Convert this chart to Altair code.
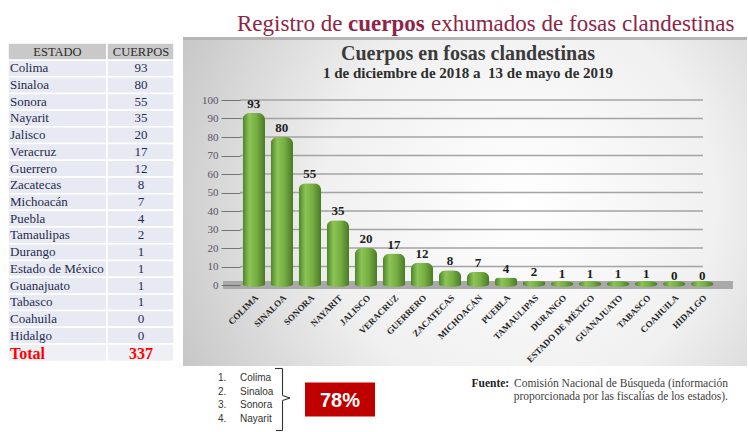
import altair as alt
import pandas as pd

# ---- data -------------------------------------------------------------
estados = ["Colima", "Sinaloa", "Sonora", "Nayarit", "Jalisco", "Veracruz",
           "Guerrero", "Zacatecas", "Michoacán", "Puebla", "Tamaulipas",
           "Durango", "Estado de México", "Guanajuato", "Tabasco",
           "Coahuila", "Hidalgo"]
cuerpos = [93, 80, 55, 35, 20, 17, 12, 8, 7, 4, 2, 1, 1, 1, 1, 0, 0]
marcas_y = [0, 10, 20, 30, 40, 50, 60, 70, 80, 90, 100]
encabezados = ["ESTADO", "CUERPOS"]
titulo = ["Registro de", "cuerpos", "exhumados de fosas clandestinas"]
titulo_grafica = "Cuerpos en fosas clandestinas"
periodo = "1 de diciembre de 2018 a\u00a0 13 de mayo de 2019"
fuente = ["Fuente:", "Comisión Nacional de Búsqueda (información",
          "proporcionada por las fiscalías de los estados)."]

total = sum(cuerpos)
n_top = 4
porcentaje = round(100 * sum(cuerpos[:n_top]) / total)

# ---- layout helpers (plot area origin on the page) ----------------------
W, H = 510, 185
X0, Y0 = 223, 100
SERIF = "Liberation Serif"
SANS = "Liberation Sans"


def px(x):
    return x - X0


def py(y):
    return y - Y0


datos = pd.DataFrame({
    "estado": estados,
    "etiqueta": [e.upper() for e in estados],
    "cuerpos": cuerpos,
})
uno = pd.DataFrame({"k": [0]})


def caja(x1, x2, y1, y2, **mark):
    return alt.Chart(uno).mark_rect(**mark).encode(
        x=alt.value(px(x1)), x2=alt.value(px(x2)),
        y=alt.value(py(y1)), y2=alt.value(py(y2)))


def texto(s, x, y, **mark):
    return alt.Chart(uno).mark_text(**mark).encode(
        x=alt.value(px(x)), y=alt.value(py(y)), text=alt.value(s))


def trazo(x1, y1, x2, y2, **mark):
    return alt.Chart(uno).mark_rule(**mark).encode(
        x=alt.value(px(x1)), x2=alt.value(px(x2)),
        y=alt.value(py(y1)), y2=alt.value(py(y2)))


# ---- gradients ----------------------------------------------------------
verde = alt.Gradient(gradient="linear", x1=0, y1=0, x2=1, y2=0, stops=[
    alt.GradientStop(color="#4e8128", offset=0),
    alt.GradientStop(color="#8cc456", offset=0.3),
    alt.GradientStop(color="#76ae42", offset=0.62),
    alt.GradientStop(color="#4a7925", offset=1)])

fondo_panel = alt.Gradient(gradient="radial", x1=0.6, y1=0.5, x2=0.6, y2=0.5,
                           r1=0, r2=0.78, stops=[
    alt.GradientStop(color="#ffffff", offset=0),
    alt.GradientStop(color="#f0f0f0", offset=0.45),
    alt.GradientStop(color="#b8b8b8", offset=1)])

# ---- chart panel --------------------------------------------------------
panel = caja(183, 747, 37, 366, fill=fondo_panel)
borde_panel = caja(183, 747, 37, 40, fill="#b5b5b5")

escala_x = alt.Scale(paddingInner=0.2, paddingOuter=0.7)
escala_y = alt.Scale(domain=[0, 100])
eje_x = alt.Axis(title=None, labelAngle=-45, labelFont=SERIF,
                 labelFontWeight="bold", labelFontSize=9,
                 labelColor="#262626", domain=False, ticks=False,
                 labelPadding=8, zindex=1)
eje_y = alt.Axis(title=None, values=marcas_y, grid=False, domain=False,
                 tickSize=19, tickColor="#5a5a5a", tickWidth=0.8,
                 labelPadding=3, labelFont=SERIF, labelFontSize=11,
                 labelColor="#5b5068", offset=-17, zindex=1)
x_enc = alt.X("etiqueta:N", sort=None, scale=escala_x, axis=eje_x)

rejilla = alt.Chart(pd.DataFrame({"v": marcas_y[1:]})).mark_rule(
    color="#a3a3a3", strokeWidth=1.6).encode(
    y=alt.Y("v:Q", scale=escala_y, axis=eje_y),
    x=alt.value(17), x2=alt.value(480))

piso = caja(223, 733, 281, 289, fill="#a9a9a9")

ELIPSE = ("M-1,0 C-1,-0.15 -0.55,-0.26 0,-0.26 C0.55,-0.26 1,-0.15 1,0 "
          "C1,0.15 0.55,0.26 0,0.26 C-0.55,0.26 -1,0.15 -1,0 Z")
bases = alt.Chart(datos).transform_calculate(cero="0").mark_point(
    shape=ELIPSE, filled=True, fill=verde, size=500, opacity=1,
    strokeWidth=0, yOffset=-1).encode(
    x=x_enc, y=alt.Y("cero:Q", scale=escala_y, axis=eje_y))

barras = alt.Chart(datos).mark_bar(
    fill=verde, cornerRadiusTopLeft=7, cornerRadiusTopRight=7).encode(
    x=x_enc, y=alt.Y("cuerpos:Q", scale=escala_y, axis=eje_y))

etiquetas = alt.Chart(datos).mark_text(
    font=SERIF, fontWeight="bold", fontSize=13, color="#1c1c1c",
    baseline="alphabetic", dy=-5).encode(
    x=x_enc, y=alt.Y("cuerpos:Q", scale=escala_y, axis=eje_y),
    text="cuerpos:Q")

grafica = alt.layer(rejilla, piso, bases, barras, etiquetas)

titulos_grafica = [
    texto(titulo_grafica, 468, 60, align="center", baseline="alphabetic",
          font=SERIF, fontWeight="bold", fontSize=20, color="#3b3b3b"),
    texto(periodo, 468, 78, align="center", baseline="alphabetic",
          font=SERIF, fontWeight="bold", fontSize=15, color="#2e2e2e"),
]

# ---- page title ---------------------------------------------------------
estilo_titulo = dict(align="left", baseline="alphabetic", font=SERIF,
                     fontSize=23, color="#8f2445")
titulo_pagina = [
    texto(titulo[0], 237, 30.5, **estilo_titulo),
    texto(titulo[1], 348, 30.5, fontWeight="bold", **estilo_titulo),
    texto(titulo[2], 431, 30.5, **estilo_titulo),
]

# ---- table of states ----------------------------------------------------
filas_y = alt.Y("estado:N", sort=None, axis=None,
                scale=alt.Scale(type="band", range=[py(60), py(344)],
                                paddingInner=0, paddingOuter=0))
celda_nombre = alt.Chart(datos).mark_rect(
    fill="#e8eaf3", stroke="white", strokeWidth=1.5).encode(
    y=filas_y, x=alt.value(px(8)), x2=alt.value(px(107)))
celda_valor = alt.Chart(datos).mark_rect(
    fill="#e8eaf3", stroke="white", strokeWidth=1.5).encode(
    y=filas_y, x=alt.value(px(107)), x2=alt.value(px(174)))
nombres = alt.Chart(datos).mark_text(
    align="left", baseline="middle", font=SERIF, fontSize=13,
    color="#1f2b4d").encode(y=filas_y, x=alt.value(px(10)), text="estado:N")
numeros = alt.Chart(datos).mark_text(
    align="center", baseline="middle", font=SERIF, fontSize=13,
    color="#1f2b4d").encode(y=filas_y, x=alt.value(px(141)), text="cuerpos:Q")
tabla = alt.layer(celda_nombre, celda_valor, nombres, numeros)

cabecera = [
    caja(8, 107, 43, 60, fill="#c9c9c9", stroke="white", strokeWidth=1.5),
    caja(107, 174, 43, 60, fill="#c9c9c9", stroke="white", strokeWidth=1.5),
    texto(encabezados[0], 57.5, 52, align="center", baseline="middle",
          font=SERIF, fontSize=12.5, color="#2b2b2b"),
    texto(encabezados[1], 141, 52, align="center", baseline="middle",
          font=SERIF, fontSize=12.5, color="#2b2b2b"),
]
fila_total = [
    caja(8, 107, 344, 361.5, fill="#eff0f6", stroke="white", strokeWidth=1.5),
    caja(107, 174, 344, 361.5, fill="#eff0f6", stroke="white", strokeWidth=1.5),
    texto("Total", 10, 353.5, align="left", baseline="middle", font=SERIF,
          fontWeight="bold", fontSize=16, color="#ff0000"),
    texto(str(total), 141, 353.5, align="center", baseline="middle",
          font=SERIF, fontWeight="bold", fontSize=16, color="#ff0000"),
]

# ---- top states list, brace, share box, source note --------------------
top = pd.DataFrame({"pos": [f"{i}." for i in range(1, n_top + 1)],
                    "estado": estados[:n_top]})
lista_y = alt.Y("pos:O", sort=None, axis=None,
                scale=alt.Scale(type="band", range=[py(371), py(426)],
                                paddingInner=0, paddingOuter=0))
lista = alt.layer(
    alt.Chart(top).mark_text(align="left", baseline="middle", font=SANS,
                             fontSize=10, color="#333333").encode(
        y=lista_y, x=alt.value(px(218)), text="pos:N"),
    alt.Chart(top).mark_text(align="left", baseline="middle", font=SANS,
                             fontSize=10, color="#333333").encode(
        y=lista_y, x=alt.value(px(240)), text="estado:N"),
)

llave = [
    trazo(275, 368.5, 282.5, 368.5, color="#333333", strokeWidth=1.1),
    trazo(282.5, 368.5, 282.5, 395.5, color="#333333", strokeWidth=1.1),
    trazo(282.5, 395.5, 290, 398, color="#333333", strokeWidth=1.1),
    trazo(290, 398, 282.5, 400.5, color="#333333", strokeWidth=1.1),
    trazo(282.5, 400.5, 282.5, 430.5, color="#333333", strokeWidth=1.1),
    trazo(282.5, 430.5, 276, 430.5, color="#333333", strokeWidth=1.1),
]

recuadro = [
    caja(305, 375, 382.5, 416.5, fill="#c00000"),
    texto(f"{porcentaje}%", 340, 400.5, align="center", baseline="middle",
          font=SANS, fontWeight="bold", fontSize=20, color="white"),
]

nota = [
    texto(fuente[0], 471.5, 384, align="left", baseline="middle", font=SERIF,
          fontWeight="bold", fontSize=11.5, color="#1e1e1e"),
    texto(fuente[1], 514, 384, align="left", baseline="middle", font=SERIF,
          fontSize=11.5, color="#404040"),
    texto(fuente[2], 728, 396.5, align="right", baseline="middle", font=SERIF,
          fontSize=11.5, color="#404040"),
]

capas = ([panel, borde_panel, grafica] + titulos_grafica + titulo_pagina +
         [tabla] + cabecera + fila_total + [lista] + llave + recuadro + nota)

chart = alt.layer(*capas).resolve_scale(
    x="independent", y="independent"
).properties(
    width=W, height=H,
    padding={"left": X0, "top": Y0, "right": 748 - X0 - W,
             "bottom": 432 - Y0 - H},
    autosize=alt.AutoSizeParams(type="none"),
    background="white",
).configure_view(stroke=None)

chart.save("out.html", embed_options={"renderer": "svg", "actions": False})
